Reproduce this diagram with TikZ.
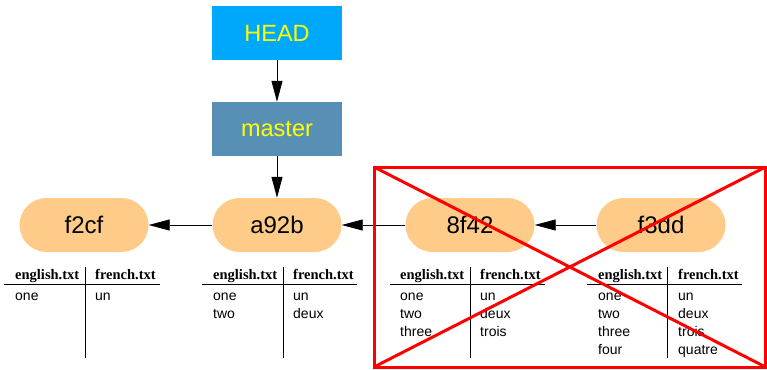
\documentclass[tikz,border=0pt]{standalone}
\usepackage{fontspec}
\setmainfont{Liberation Sans}
\newfontfamily\hdrfont{Liberation Serif}
\usetikzlibrary{arrows.meta}
\definecolor{headblue}{HTML}{00A8FC}
\definecolor{masterblue}{HTML}{588FB4}
\definecolor{commitfill}{HTML}{FECB88}
\definecolor{labelyellow}{HTML}{FFFF00}
\tikzset{
  refbox/.style={rectangle, minimum width=130pt, minimum height=54pt, inner sep=0pt, font=\fontsize{23.5}{27}\selectfont, text=labelyellow},
  commit/.style={rectangle, rounded corners=27pt, fill=commitfill, minimum width=129pt, minimum height=54pt, inner sep=0pt, font=\fontsize{24}{28}\selectfont},
  conn/.style={draw=black, line width=0.8pt, -{Triangle[length=21pt,width=11pt]}},
  hdr/.style={anchor=base west, inner sep=0pt, font=\hdrfont\bfseries\fontsize{14.5}{17}\selectfont},
  cell/.style={anchor=base west, inner sep=0pt, font=\fontsize{14}{16}\selectfont},
  rule/.style={draw=black, line width=0.9pt},
  cross/.style={draw=red, line width=3pt}
}
\begin{document}
\begin{tikzpicture}[x=1pt,y=-1pt]
\useasboundingbox (0,0) rectangle (767,369);
% refs
\node[refbox, fill=headblue] (head) at (277,33) {HEAD};
\node[refbox, fill=masterblue] (master) at (277,129) {master};
\draw[white, dashed, line width=0.8pt] (master.south west) -- (master.south east);
% commits
\node[commit] (f2cf) at (84,225) {f2cf};
\node[commit] (a92b) at (277,225) {a92b};
\node[commit] (c8f42) at (470,225) {8f42};
\node[commit] (f3dd) at (661,225) {f3dd};
% connectors
\draw[conn] (head) -- (master);
\draw[conn] (master) -- (a92b);
\draw[conn] (a92b) -- (f2cf);
\draw[conn] (c8f42) -- (a92b);
\draw[conn] (f3dd) -- (c8f42);
% table 1
\coordinate (t1a) at (4,284); \coordinate (t1b) at (160,284);
\coordinate (t1c) at (85,267); \coordinate (t1d) at (85,358);
\draw[rule] (t1a) -- (t1b); \draw[rule] (t1c) -- (t1d);
\node[hdr] (t1h1) at (15,279) {english.txt};
\node[hdr] (t1h2) at (95,279) {french.txt};
\node[cell] (t1e1) at (15,300) {one};
\node[cell] (t1f1) at (95,300) {un};
% table 2
\coordinate (t2a) at (202,284); \coordinate (t2b) at (357,284);
\coordinate (t2c) at (283,267); \coordinate (t2d) at (283,358);
\draw[rule] (t2a) -- (t2b); \draw[rule] (t2c) -- (t2d);
\node[hdr] (t2h1) at (213,279) {english.txt};
\node[hdr] (t2h2) at (293,279) {french.txt};
\node[cell] (t2e1) at (213,300) {one};
\node[cell] (t2f1) at (293,300) {un};
\node[cell] (t2e2) at (213,318) {two};
\node[cell] (t2f2) at (293,318) {deux};
% table 3
\coordinate (t3a) at (390,284); \coordinate (t3b) at (545,284);
\coordinate (t3c) at (470,267); \coordinate (t3d) at (470,358);
\draw[rule] (t3a) -- (t3b); \draw[rule] (t3c) -- (t3d);
\node[hdr] (t3h1) at (400,279) {english.txt};
\node[hdr] (t3h2) at (480,279) {french.txt};
\node[cell] (t3e1) at (400,300) {one};
\node[cell] (t3f1) at (480,300) {un};
\node[cell] (t3e2) at (400,318) {two};
\node[cell] (t3f2) at (480,318) {deux};
\node[cell] (t3e3) at (400,336) {three};
\node[cell] (t3f3) at (480,336) {trois};
% table 4
\coordinate (t4a) at (587,284); \coordinate (t4b) at (742,284);
\coordinate (t4c) at (667,267); \coordinate (t4d) at (667,358);
\draw[rule] (t4a) -- (t4b); \draw[rule] (t4c) -- (t4d);
\node[hdr] (t4h1) at (598,279) {english.txt};
\node[hdr] (t4h2) at (678,279) {french.txt};
\node[cell] (t4e1) at (598,300) {one};
\node[cell] (t4f1) at (678,300) {un};
\node[cell] (t4e2) at (598,318) {two};
\node[cell] (t4f2) at (678,318) {deux};
\node[cell] (t4e3) at (598,336) {three};
\node[cell] (t4f3) at (678,336) {trois};
\node[cell] (t4e4) at (598,354) {four};
\node[cell] (t4f4) at (678,354) {quatre};
% red cross
\coordinate (xa) at (374,167); \coordinate (xb) at (765.5,367);
\coordinate (xc) at (374,367); \coordinate (xd) at (765.5,167);
\draw[cross] (xa) rectangle (xb);
\draw[cross] (xa) -- (xb);
\draw[cross] (xc) -- (xd);
\end{tikzpicture}
\end{document}
